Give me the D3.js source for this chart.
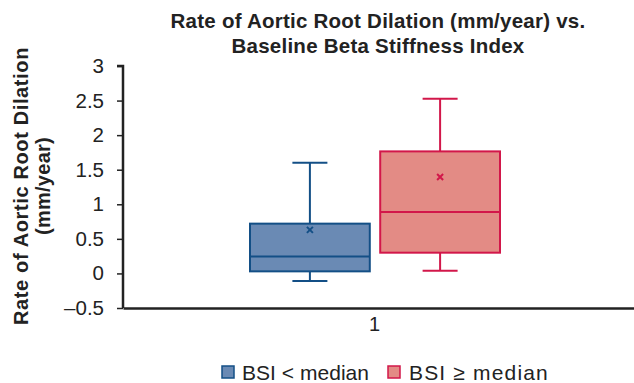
<!DOCTYPE html>
<html><head><meta charset="utf-8">
<script src="https://cdn.jsdelivr.net/npm/d3@7"></script>
<style>body{margin:0;background:#fff}svg{display:block;font-family:"Liberation Sans",Arial,sans-serif}</style>
</head><body><svg id="c" width="634" height="383"></svg>
<script>
const categories = ["1"];
const seriesNames = ["BSI < median", "BSI \u2265 median"];
const whiskerLow = [-0.11, 0.04];
const q1 = [0.03, 0.30];
const median = [0.245, 0.89];
const q3 = [0.72, 1.765];
const whiskerHigh = [1.60, 2.525];
const means = [0.63, 1.395];
const yTicks = [-0.5, 0, 0.5, 1, 1.5, 2, 2.5, 3];
const fills = ["#6a8ab4", "#e38b85"];
const strokes = ["#134f86", "#d2174a"];

const svg = d3.select("#c");
const m = {l:123, r:0};
const W = 634;
const x = d3.scaleBand().domain(categories).range([m.l, W - m.r]);
const xs = d3.scaleBand().domain(seriesNames).range([250, 500]).paddingInner(0.08);
const y = d3.scaleLinear().domain([-0.5, 3]).range([308, 66]);

function fit(sel, target) {
  const n = sel.text().length;
  const len = sel.node().getComputedTextLength();
  sel.attr("letter-spacing", ((target - len) / n).toFixed(2));
}

// title
const t1 = svg.append("text").attr("x", 378).attr("y", 27.5).attr("text-anchor","middle")
  .attr("font-weight","bold").attr("font-size",20.5).attr("fill","#222").text("Rate of Aortic Root Dilation (mm/year) vs.");
fit(t1, 415);
const t2 = svg.append("text").attr("x", 378).attr("y", 52.5).attr("text-anchor","middle")
  .attr("font-weight","bold").attr("font-size",20.5).attr("fill","#222").text("Baseline Beta Stiffness Index");
fit(t2, 293);

// y label
const y1 = svg.append("text").attr("transform","translate(27.5,186) rotate(-90)").attr("text-anchor","middle")
  .attr("font-weight","bold").attr("font-size",20).attr("fill","#222").text("Rate of Aortic Root Dilation");
fit(y1, 278);
const y2 = svg.append("text").attr("transform","translate(50,186) rotate(-90)").attr("text-anchor","middle")
  .attr("font-weight","bold").attr("font-size",20).attr("fill","#222").text("(mm/year)");
fit(y2, 98);

// y axis
const ya = svg.append("g").attr("transform",`translate(${m.l},0)`)
  .call(d3.axisLeft(y).tickValues(yTicks).tickSize(6).tickFormat(d => d < 0 ? "\u2013" + Math.abs(d) : d));
ya.select(".domain").attr("stroke","#222").attr("stroke-width",2.5).attr("d",`M-6,${y(3)}H0V${y(-0.5)}`);
ya.selectAll(".tick line").attr("stroke","#222").attr("stroke-width",1.5);
ya.selectAll(".tick text").attr("font-size",20.5).attr("fill","#222").attr("x",-19).attr("font-family","Liberation Sans, Arial, sans-serif");

// x axis
const xa = svg.append("g").attr("transform",`translate(0,${y(-0.5)})`)
  .call(d3.axisBottom(x).tickSize(0).tickPadding(9));
xa.select(".domain").attr("stroke","#222").attr("stroke-width",2.5);
xa.selectAll(".tick text").attr("font-size",20).attr("fill","#222").attr("font-family","Liberation Sans, Arial, sans-serif").attr("dx",-4);

// boxes
seriesNames.forEach((s,i) => {
  const g = svg.append("g");
  const x0 = xs(s), bw = xs.bandwidth(), cx = x0 + bw/2, cap = 35;
  g.append("line").attr("x1",cx).attr("x2",cx).attr("y1",y(whiskerHigh[i])).attr("y2",y(q3[i])).attr("stroke",strokes[i]).attr("stroke-width",2);
  g.append("line").attr("x1",cx).attr("x2",cx).attr("y1",y(q1[i])).attr("y2",y(whiskerLow[i])).attr("stroke",strokes[i]).attr("stroke-width",2);
  [whiskerHigh[i], whiskerLow[i]].forEach(v => g.append("line").attr("x1",cx-cap/2).attr("x2",cx+cap/2).attr("y1",y(v)).attr("y2",y(v)).attr("stroke",strokes[i]).attr("stroke-width",2));
  g.append("rect").attr("x",x0).attr("width",bw).attr("y",y(q3[i])).attr("height",y(q1[i])-y(q3[i]))
    .attr("fill",fills[i]).attr("stroke",strokes[i]).attr("stroke-width",2);
  g.append("line").attr("x1",x0).attr("x2",x0+bw).attr("y1",y(median[i])).attr("y2",y(median[i])).attr("stroke",strokes[i]).attr("stroke-width",2);
  const my = y(means[i]), d = 3;
  g.append("path").attr("d",`M${cx-d},${my-d}L${cx+d},${my+d}M${cx+d},${my-d}L${cx-d},${my+d}`).attr("stroke",strokes[i]).attr("stroke-width",2);
});

// legend
const leg = [{x:222, tx:242, w:127},{x:388, tx:409, w:140}];
seriesNames.forEach((s,i) => {
  svg.append("rect").attr("x",leg[i].x).attr("y",366).attr("width",12).attr("height",12)
    .attr("fill",fills[i]).attr("stroke",strokes[i]).attr("stroke-width",1.5);
  const lt = svg.append("text").attr("x",leg[i].tx).attr("y",380).attr("font-size",21).attr("fill","#222").text(s);
  fit(lt, leg[i].w);
});
</script></body></html>
